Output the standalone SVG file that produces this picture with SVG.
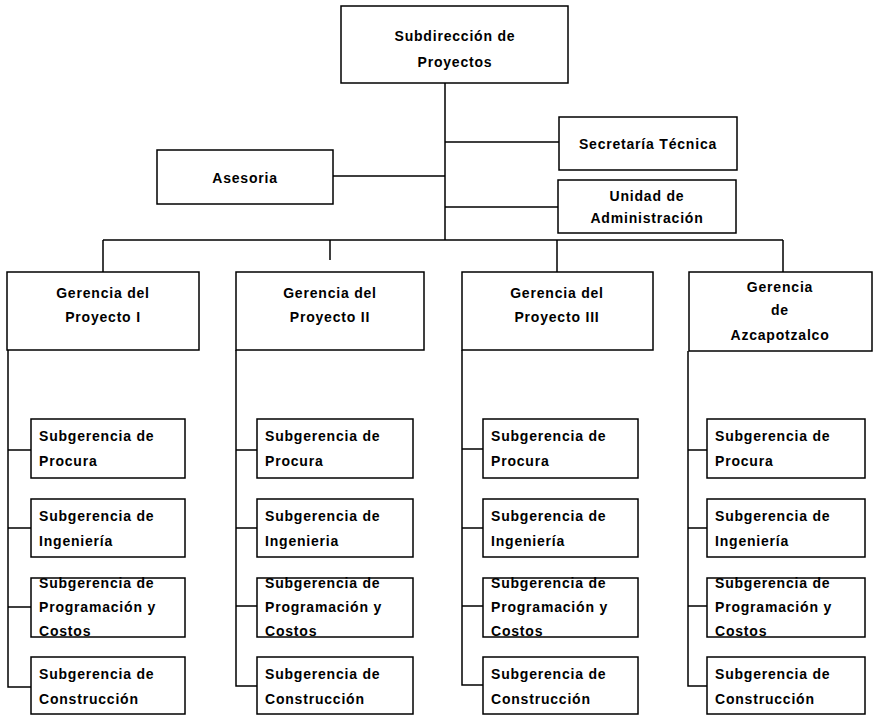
<svg xmlns="http://www.w3.org/2000/svg" width="874" height="716" viewBox="0 0 874 716">
<style>
rect.box{fill:#fff;stroke:#000;stroke-width:1.5}
.ln{fill:none;stroke:#000;stroke-width:1.5}
text{font-family:"Liberation Sans",Arial,sans-serif;font-size:14px;font-weight:bold;letter-spacing:0.8px;fill:#000}
.c{text-anchor:middle}
</style>
<rect width="874" height="716" fill="#fff"/>
<g id="connectors">
<path class="ln" d="M445 83V240M445 142H559M333 176H445M445 207H558M103 240H783M103 240V272M330 240V260M557 240V272M783 240V272"/>
<path class="ln" d="M8 350V687H31M8 450H31M8 528H31M8 607H31"/>
<path class="ln" d="M236 350V686H257M236 450H257M236 528H257M236 606H257"/>
<path class="ln" d="M462 350V685H483M462 449H483M462 528H483M462 606H483"/>
<path class="ln" d="M688 351V686H707M688 450H707M688 528H707M688 606H707"/>
</g>
<g id="subdireccion"><rect class="box" x="341" y="6" width="227" height="77"/><text class="c" x="455" y="41">Subdirección de</text><text class="c" x="455" y="67">Proyectos</text></g>
<g id="secretaria"><rect class="box" x="559" y="117" width="178" height="53"/><text class="c" x="648" y="149">Secretaría Técnica</text></g>
<g id="asesoria"><rect class="box" x="157" y="150" width="176" height="54"/><text class="c" x="245" y="183">Asesoria</text></g>
<g id="unidad"><rect class="box" x="558" y="180" width="178" height="53"/><text class="c" x="647" y="201">Unidad de</text><text class="c" x="647" y="223">Administración</text></g>
<g id="gerencia1"><rect class="box" x="7" y="272" width="192" height="78"/><text class="c" x="103" y="298">Gerencia del</text><text class="c" x="103" y="322">Proyecto I</text></g>
<g id="gerencia2"><rect class="box" x="236" y="272" width="188" height="78"/><text class="c" x="330" y="298">Gerencia del</text><text class="c" x="330" y="322">Proyecto II</text></g>
<g id="gerencia3"><rect class="box" x="462" y="272" width="191" height="78"/><text class="c" x="557" y="298">Gerencia del</text><text class="c" x="557" y="322">Proyecto III</text></g>
<g id="gerencia4"><rect class="box" x="689" y="272" width="183" height="79"/><text class="c" x="780" y="292">Gerencia</text><text class="c" x="780" y="315">de</text><text class="c" x="780" y="340">Azcapotzalco</text></g>
<g id="procura1"><rect class="box" x="31" y="419" width="154" height="59"/><text x="39" y="441">Subgerencia de</text><text x="39" y="466">Procura</text></g>
<g id="ingenieria1"><rect class="box" x="31" y="499" width="154" height="58"/><text x="39" y="521">Subgerencia de</text><text x="39" y="546">Ingeniería</text></g>
<g id="programacion1"><rect class="box" x="31" y="578" width="154" height="59"/><text x="39" y="588">Subgerencia de</text><text x="39" y="612">Programación y</text><text x="39" y="636">Costos</text></g>
<g id="construccion1"><rect class="box" x="31" y="657" width="154" height="57"/><text x="39" y="679">Subgerencia de</text><text x="39" y="704">Construcción</text></g>
<g id="procura2"><rect class="box" x="257" y="419" width="156" height="59"/><text x="265" y="441">Subgerencia de</text><text x="265" y="466">Procura</text></g>
<g id="ingenieria2"><rect class="box" x="257" y="499" width="156" height="58"/><text x="265" y="521">Subgerencia de</text><text x="265" y="546">Ingenieria</text></g>
<g id="programacion2"><rect class="box" x="257" y="578" width="156" height="59"/><text x="265" y="588">Subgerencia de</text><text x="265" y="612">Programación y</text><text x="265" y="636">Costos</text></g>
<g id="construccion2"><rect class="box" x="257" y="657" width="156" height="57"/><text x="265" y="679">Subgerencia de</text><text x="265" y="704">Construcción</text></g>
<g id="procura3"><rect class="box" x="483" y="419" width="155" height="59"/><text x="491" y="441">Subgerencia de</text><text x="491" y="466">Procura</text></g>
<g id="ingenieria3"><rect class="box" x="483" y="499" width="155" height="58"/><text x="491" y="521">Subgerencia de</text><text x="491" y="546">Ingeniería</text></g>
<g id="programacion3"><rect class="box" x="483" y="578" width="155" height="59"/><text x="491" y="588">Subgerencia de</text><text x="491" y="612">Programación y</text><text x="491" y="636">Costos</text></g>
<g id="construccion3"><rect class="box" x="483" y="657" width="155" height="57"/><text x="491" y="679">Subgerencia de</text><text x="491" y="704">Construcción</text></g>
<g id="procura4"><rect class="box" x="707" y="419" width="158" height="59"/><text x="715" y="441">Subgerencia de</text><text x="715" y="466">Procura</text></g>
<g id="ingenieria4"><rect class="box" x="707" y="499" width="158" height="58"/><text x="715" y="521">Subgerencia de</text><text x="715" y="546">Ingeniería</text></g>
<g id="programacion4"><rect class="box" x="707" y="578" width="158" height="59"/><text x="715" y="588">Subgerencia de</text><text x="715" y="612">Programación y</text><text x="715" y="636">Costos</text></g>
<g id="construccion4"><rect class="box" x="707" y="657" width="158" height="57"/><text x="715" y="679">Subgerencia de</text><text x="715" y="704">Construcción</text></g>
</svg>
